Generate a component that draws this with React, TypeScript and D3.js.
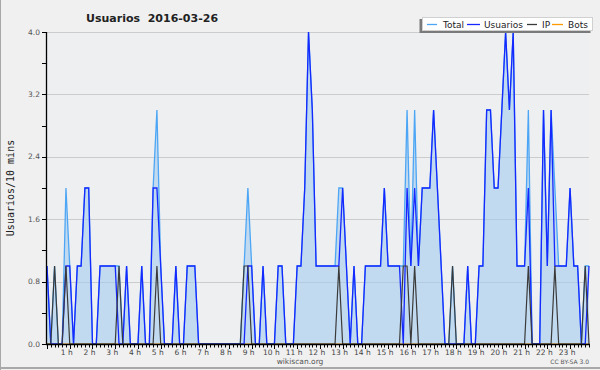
import React from 'react';
import * as d3 from 'd3';

const hourLabels = ['1 h','2 h','3 h','4 h','5 h','6 h','7 h','8 h','9 h','10 h','11 h','12 h','13 h','14 h','15 h','16 h','17 h','18 h','19 h','20 h','21 h','22 h','23 h'];
const yTickValues = [0, 0.8, 1.6, 2.4, 3.2, 4.0];
const yTickLabels = ['0.0', '0.8', '1.6', '2.4', '3.2', '4.0'];

const usuarios = [
  1,0,0,0,0,1,1,0,1,1,
  2,2,0,0,1,1,1,1,1,0,
  0,1,0,0,0,1,0,0,2,2,
  1,0,0,0,1,0,0,1,1,1,
  0,0,0,0,0,0,0,0,0,0,
  0,0,0,1,1,0,0,1,0,0,
  0,1,1,0,0,0,1,1,2,4,
  3,1,1,1,1,1,1,1,2,1,
  0,1,0,0,1,1,1,1,1,2,
  1,1,1,1,0,2,1,2,1,2,
  2,2,3,2,1,0,0,0,0,0,
  0,1,0,0,1,1,3,3,2,2,
  3,4,3,4,1,1,1,2,0,0,
  0,3,1,3,1,1,1,1,2,1,
  1,0,0,1,
];
const ip = [
  0,0,1,0,0,1,0,0,0,0,
  0,0,0,0,0,0,0,0,0,1,
  0,0,0,0,0,0,0,0,0,1,
  0,0,0,0,0,0,0,0,0,0,
  0,0,0,0,0,0,0,0,0,0,
  0,0,1,1,0,0,0,0,0,0,
  0,0,0,0,0,0,0,0,0,0,
  0,0,0,0,0,0,0,1,0,0,
  0,0,0,0,0,0,0,0,0,0,
  0,0,0,0,1,1,0,1,0,0,
  0,0,0,0,0,0,0,1,0,0,
  0,0,0,0,0,0,0,0,0,0,
  0,0,0,0,0,0,0,1,0,0,
  0,0,0,0,1,0,0,0,0,0,
  0,0,1,0,
];
const total = [
  1,0,1,0,0,2,1,0,1,1,
  2,2,0,0,1,1,1,1,1,1,
  0,1,0,0,0,1,0,0,2,3,
  1,0,0,0,1,0,0,1,1,1,
  0,0,0,0,0,0,0,0,0,0,
  0,0,1,2,1,0,0,1,0,0,
  0,1,1,0,0,0,1,1,2,4,
  3,1,1,1,1,1,1,2,2,1,
  0,1,0,0,1,1,1,1,1,2,
  1,1,1,1,1,3,1,3,1,2,
  2,2,3,2,1,0,0,1,0,0,
  0,1,0,0,1,1,3,3,2,2,
  3,4,3,4,1,1,1,3,0,0,
  0,3,1,3,2,1,1,1,2,1,
  1,0,1,1,
];
const bots = [
  0,0,0,0,0,0,0,0,0,0, 0,0,0,0,0,0,0,0,0,0, 0,0,0,0,0,0,0,0,0,0,
  0,0,0,0,0,0,0,0,0,0, 0,0,0,0,0,0,0,0,0,0, 0,0,0,0,0,0,0,0,0,0,
  0,0,0,0,0,0,0,0,0,0, 0,0,0,0,0,0,0,0,0,0, 0,0,0,0,0,0,0,0,0,0,
  0,0,0,0,0,0,0,0,0,0, 0,0,0,0,0,0,0,0,0,0, 0,0,0,0,0,0,0,0,0,0,
  0,0,0,0,0,0,0,0,0,0, 0,0,0,0,0,0,0,0,0,0, 0,0,0,0,
];

const seriesNames = ['Total', 'Usuarios', 'IP', 'Bots'];
const seriesColors = ['#4ca6f5', '#1428ff', '#3a3a3a', '#ff9a00'];

export default function App() {
  const W = 600, H = 370;
  const left = 46, right = 589, top = 32, bottom = 344;
  const x = d3.scaleLinear().domain([0, total.length - 1]).range([47, right]);
  const y = d3.scaleLinear().domain([0, 4]).range([bottom, top]);
  const line = d3.line<number>().x((_, i) => x(i)).y(d => y(d));
  const area = d3.area<number>().x((_, i) => x(i)).y0(y(0)).y1(d => y(d));
  const font = 'DejaVu Sans, Verdana, sans-serif';
  const minorY = d3.range(0, 4.0001, 0.4);
  const legendX = [427, 467, 527, 552];
  const legendW = [10, 13, 10, 11];
  const legendTextX = [443, 484, 542, 568];

  return (
    <svg width={W} height={H} style={{ position: 'fixed', left: 0, top: 0 }} xmlns="http://www.w3.org/2000/svg">
      <rect x={0} y={0} width={W} height={H} fill="#f0f0f0" />
      <line x1={0.5} y1={0} x2={0.5} y2={H} stroke="#a8a8a8" strokeWidth={1} />
      <line x1={0} y1={368} x2={W} y2={368} stroke="#a8a8a8" strokeWidth={2} />
      <rect x={left} y={top} width={right - left} height={bottom - top} fill="#eeeff1" />
      {yTickValues.slice(1).map(v => (
        <line key={'g' + v} x1={left} x2={right} y1={Math.round(y(v)) + 0.5} y2={Math.round(y(v)) + 0.5} stroke="#cccccc" strokeWidth={1} />
      ))}
      <path d={area(total) || ''} fill="#9fc8ee" fillOpacity={0.55} />
      <path d={line(bots) || ''} fill="none" stroke={seriesColors[3]} strokeWidth={1.2} />
      <path d={line(total) || ''} fill="none" stroke={seriesColors[0]} strokeWidth={1.3} />
      <path d={line(usuarios) || ''} fill="none" stroke={seriesColors[1]} strokeWidth={1.3} />
      <path d={line(ip) || ''} fill="none" stroke={seriesColors[2]} strokeWidth={1.2} />
      <line x1={left + 0.5} y1={top} x2={left + 0.5} y2={bottom + 1} stroke="#000" strokeWidth={1.3} />
      <line x1={left} y1={bottom + 0.5} x2={right + 1} y2={bottom + 0.5} stroke="#000" strokeWidth={1.3} />
      {minorY.map(v => (
        <line key={'yt' + v} x1={left - 4} x2={left} y1={Math.round(y(v)) + 0.5} y2={Math.round(y(v)) + 0.5} stroke="#000" strokeWidth={1} />
      ))}
      {yTickValues.map((v, k) => (
        <text key={'yl' + v} x={40} y={y(v) + 2.5} textAnchor="end" fontFamily={font} fontSize={7.5} fill="#555">{yTickLabels[k]}</text>
      ))}
      {total.map((_, i) => (
        <line key={'xt' + i} x1={Math.round(x(i)) + 0.5} x2={Math.round(x(i)) + 0.5} y1={bottom} y2={bottom + (i % 6 === 0 ? 5 : 3.5)} stroke="#000" strokeWidth={1} />
      ))}
      {hourLabels.map((lab, k) => (
        <text key={'xl' + k} x={x((k + 1) * 6) - 3} y={355} textAnchor="middle" fontFamily={font} fontSize={7.5} fill="#444">{lab}</text>
      ))}
      <text x={10} y={188} transform="rotate(-90 10 188)" dy={3.5} textAnchor="middle" fontFamily="DejaVu Sans Mono, monospace" fontSize={10} fill="#222">Usuarios/10 mins</text>
      <text x={86} y={21.5} fontFamily={font} fontWeight="bold" fontSize={11} fill="#222" style={{ whiteSpace: 'pre' }}>{'Usuarios  2016-03-26'}</text>
      <text x={300} y={364} textAnchor="middle" fontFamily={font} fontSize={7.5} fill="#555">wikiscan.org</text>
      <text x={589} y={364} textAnchor="end" fontFamily={font} fontSize={6} fill="#555">CC BY-SA 3.0</text>
      <rect x={419.5} y={19} width={171} height={14} fill="#7a7a7a" />
      <rect x={422.5} y={17.5} width={170} height={13} fill="#ffffff" stroke="#d0d0d0" strokeWidth={1} />
      {seriesNames.map((n, k) => (
        <g key={'lg' + n}>
          <line x1={legendX[k]} x2={legendX[k] + legendW[k]} y1={24.5} y2={24.5} stroke={seriesColors[k]} strokeWidth={1.3} />
          <text x={legendTextX[k]} y={28} fontFamily={font} fontSize={9} fill="#222">{n}</text>
        </g>
      ))}
    </svg>
  );
}
